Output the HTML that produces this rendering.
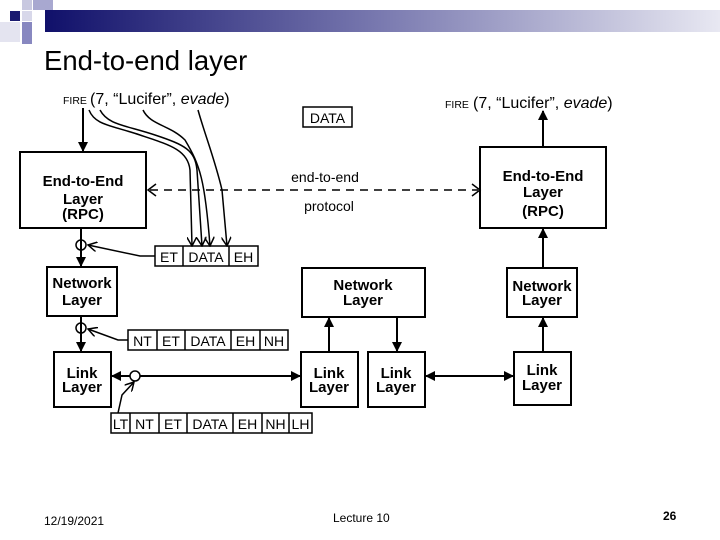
<!DOCTYPE html>
<html><head><meta charset="utf-8"><style>
html,body{margin:0;padding:0;background:#fff;}
svg{display:block;font-family:"Liberation Sans",sans-serif;}
.b{font-weight:bold;font-size:15px;text-anchor:middle;}
.c{font-size:14px;text-anchor:middle;}
</style></head><body>
<svg width="720" height="540" viewBox="0 0 720 540">
<defs>
<linearGradient id="g" x1="0" x2="1"><stop offset="0" stop-color="#10106a"/><stop offset="0.5" stop-color="#7a7ab0"/><stop offset="1" stop-color="#e8e8f2"/></linearGradient>
<marker id="a" markerWidth="10" markerHeight="10" refX="9" refY="5" orient="auto" markerUnits="userSpaceOnUse"><path d="M0,0 L10,5 L0,10 z" fill="#000"/></marker>
<marker id="o" markerWidth="10" markerHeight="10" refX="9" refY="5" orient="auto" markerUnits="userSpaceOnUse"><path d="M0,0 L9,5 L0,10" fill="none" stroke="#000" stroke-width="1.5"/></marker>
</defs>
<rect x="45" y="10" width="675" height="22" fill="url(#g)"/>
<rect x="10" y="11" width="10" height="10" fill="#1a1a70"/>
<rect x="22" y="0" width="10" height="10" fill="#c8c8e0"/>
<rect x="22" y="11" width="10" height="10" fill="#d8d8ea"/>
<rect x="33" y="0" width="20" height="10" fill="#a8a8d0"/>
<rect x="0" y="22" width="20" height="20" fill="#e4e4f0"/>
<rect x="22" y="22" width="10" height="22" fill="#8888c0"/>
<text x="44" y="70" font-size="27.5">End-to-end layer</text>

<g fill="none" stroke="#000" stroke-width="2">
<rect x="20" y="152" width="126" height="76"/>
<rect x="480" y="147" width="126" height="81"/>
<rect x="47" y="267" width="70" height="49"/>
<rect x="302" y="268" width="123" height="49"/>
<rect x="507" y="268" width="70" height="49"/>
<rect x="54" y="352" width="57" height="55"/>
<rect x="301" y="352" width="57" height="55"/>
<rect x="368" y="352" width="57" height="55"/>
<rect x="514" y="352" width="57" height="53"/>
<rect x="303" y="107" width="49" height="20" stroke-width="1.5"/>
</g>
<g fill="none" stroke="#000" stroke-width="1.5">
<rect x="155" y="246" width="103" height="20"/><line x1="183" y1="246" x2="183" y2="266"/><line x1="229" y1="246" x2="229" y2="266"/>
<rect x="128" y="330" width="160" height="20"/><line x1="157" y1="330" x2="157" y2="350"/><line x1="185" y1="330" x2="185" y2="350"/><line x1="231" y1="330" x2="231" y2="350"/><line x1="260" y1="330" x2="260" y2="350"/>
<rect x="111" y="413" width="201" height="20"/><line x1="130" y1="413" x2="130" y2="433"/><line x1="159" y1="413" x2="159" y2="433"/><line x1="187" y1="413" x2="187" y2="433"/><line x1="233" y1="413" x2="233" y2="433"/><line x1="262" y1="413" x2="262" y2="433"/><line x1="289" y1="413" x2="289" y2="433"/>
</g>
<g fill="none" stroke="#000" stroke-width="2">
<line x1="83" y1="108" x2="83" y2="151" marker-end="url(#a)"/>
<line x1="81" y1="228" x2="81" y2="266" marker-end="url(#a)"/>
<circle cx="81" cy="245" r="5" stroke-width="1.5"/>
<line x1="81" y1="316" x2="81" y2="351" marker-end="url(#a)"/>
<circle cx="81" cy="328" r="5" stroke-width="1.5"/>
<path d="M155,256 L140,256 L88,245" stroke-width="1.5" marker-end="url(#o)"/>
<path d="M128,340 L118,340 L88,329" stroke-width="1.5" marker-end="url(#o)"/>
<path d="M118,413 L122,395 L134,382" stroke-width="1.5" marker-end="url(#o)"/>
<line x1="113" y1="376" x2="300" y2="376" marker-end="url(#a)"/>
<line x1="299" y1="376" x2="112" y2="376" marker-end="url(#a)"/>
<circle cx="135" cy="376" r="5" stroke-width="1.5" fill="#fff"/>
<line x1="150" y1="190" x2="478" y2="190" stroke-dasharray="8,6" stroke-width="1.5"/>
<path d="M156,184 L148,190 L156,196 M472,184 L480,190 L472,196" stroke-width="1.5"/>
<line x1="543" y1="147" x2="543" y2="111" marker-end="url(#a)"/>
<line x1="543" y1="268" x2="543" y2="229" marker-end="url(#a)"/>
<line x1="543" y1="352" x2="543" y2="318" marker-end="url(#a)"/>
<line x1="329" y1="352" x2="329" y2="318" marker-end="url(#a)"/>
<line x1="397" y1="317" x2="397" y2="351" marker-end="url(#a)"/>
<line x1="427" y1="376" x2="513" y2="376" marker-end="url(#a)"/>
<line x1="512" y1="376" x2="426" y2="376" marker-end="url(#a)"/>
<g stroke-width="1.5">
<path d="M89,110 C95,125 110,125 140,135 C170,145 188,150 190,170 L192,246" marker-end="url(#o)"/>
<path d="M100,110 C108,125 125,125 155,135 C185,145 195,150 197,170 L202,246" marker-end="url(#o)"/>
<path d="M143,110 C150,125 170,125 185,140 C200,165 205,180 210,246" marker-end="url(#o)"/>
<path d="M198,110 C205,135 215,160 222,190 L227,246" marker-end="url(#o)"/>
</g>
</g>

<text x="63" y="104" font-size="10.5">FIRE</text>
<text x="90" y="104" font-size="16">(7, “Lucifer”, <tspan font-style="italic">evade</tspan>)</text>
<text x="445" y="108" font-size="10.5">FIRE</text>
<text x="473" y="108" font-size="16">(7, “Lucifer”, <tspan font-style="italic">evade</tspan>)</text>
<text x="327.5" y="123" class="c">DATA</text>
<text x="325" y="182" class="c">end-to-end</text>
<text x="329" y="211" class="c">protocol</text>

<text class="b" x="83" y="186">End-to-End</text><text class="b" x="83" y="204">Layer</text><text class="b" x="83" y="219">(RPC)</text>
<text class="b" x="543" y="181">End-to-End</text><text class="b" x="543" y="197">Layer</text><text class="b" x="543" y="216">(RPC)</text>
<text class="b" x="82" y="288">Network</text><text class="b" x="82" y="305">Layer</text>
<text class="b" x="363" y="290">Network</text><text class="b" x="363" y="305">Layer</text>
<text class="b" x="542" y="291">Network</text><text class="b" x="542" y="305">Layer</text>
<text class="b" x="82" y="378">Link</text><text class="b" x="82" y="392">Layer</text>
<text class="b" x="329" y="378">Link</text><text class="b" x="329" y="392">Layer</text>
<text class="b" x="396" y="378">Link</text><text class="b" x="396" y="392">Layer</text>
<text class="b" x="542" y="375">Link</text><text class="b" x="542" y="390">Layer</text>

<text x="169" y="262" class="c">ET</text><text x="206" y="262" class="c">DATA</text><text x="243.5" y="262" class="c">EH</text>
<text x="142.5" y="346" class="c">NT</text><text x="171" y="346" class="c">ET</text><text x="208" y="346" class="c">DATA</text><text x="245.5" y="346" class="c">EH</text><text x="274" y="346" class="c">NH</text>
<text x="120.5" y="429" class="c">LT</text><text x="144.5" y="429" class="c">NT</text><text x="173" y="429" class="c">ET</text><text x="210" y="429" class="c">DATA</text><text x="247.5" y="429" class="c">EH</text><text x="275.5" y="429" class="c">NH</text><text x="300.5" y="429" class="c">LH</text>

<text x="44" y="525" font-size="12">12/19/2021</text>
<text x="333" y="522" font-size="12">Lecture 10</text>
<text x="663" y="520" font-size="12" font-weight="bold">26</text>
</svg>
</body></html>
